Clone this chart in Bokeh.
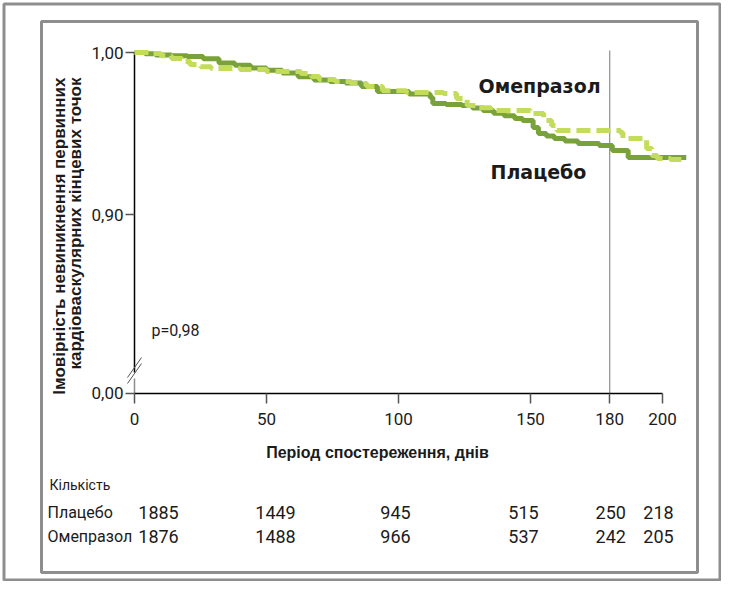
import numpy as np
from bokeh.plotting import figure
from bokeh.models import Range1d, LinearAxis, FixedTicker, CustomJSTickFormatter
from bokeh.core.properties import value
from bokeh.embed import file_html
from bokeh.resources import INLINE

# ---------------- data ----------------
placebo_days = [0, 4, 8, 14, 20, 26, 32, 38, 44, 50, 56, 62, 68, 74, 80, 86, 92, 104, 112, 113,
                118, 124, 128, 132, 136, 140, 144, 147, 151, 153, 156, 159, 163, 168, 176, 181, 187, 209]
placebo_surv = [1.0, 0.9992, 0.9985, 0.9980, 0.9975, 0.9962, 0.9935, 0.9922, 0.9905, 0.9890,
                0.9873, 0.9850, 0.9830, 0.9822, 0.9812, 0.9790, 0.9760, 0.9745, 0.9723, 0.9686,
                0.9680, 0.9673, 0.9658, 0.9643, 0.9626, 0.9610, 0.9594, 0.9581, 0.9538, 0.9501,
                0.9485, 0.9470, 0.9455, 0.9439, 0.9427, 0.9396, 0.9353, 0.9353]

omep_days = [0, 6, 10, 14, 18, 21, 25, 29, 40, 50, 63, 67, 70, 76, 82, 88, 94, 103, 117, 122,
             126, 130, 135, 150, 155, 158, 160, 184, 185, 192, 194, 196, 198, 203, 209]
omep_surv = [1.0, 0.9994, 0.9980, 0.9963, 0.9945, 0.9926, 0.9912, 0.9901, 0.9895, 0.9883,
             0.9871, 0.9852, 0.9834, 0.9822, 0.9809, 0.9790, 0.9765, 0.9754, 0.9747, 0.9717,
             0.9673, 0.9660, 0.9643, 0.9624, 0.9581, 0.9550, 0.9519, 0.9507, 0.9470, 0.9470,
             0.9408, 0.9365, 0.9347, 0.9340, 0.9335]

x_ticks = [0, 50, 100, 150, 180, 200]
y_ticks = [0.79, 0.90, 1.00]          # 0.79 stands in for the broken-axis "0,00"
BREAK_ZERO = 0.79
ref_day = 180

risk_days = [0, 50, 100, 150, 180, 200]
risk_placebo = [1885, 1449, 945, 515, 250, 218]
risk_omep = [1876, 1488, 966, 537, 242, 205]

label_omep = "Омепразол"
label_placebo = "Плацебо"
p_text = "p=0,98"
x_title = "Період спостереження, днів"
y_title = ["Імовірність невиникнення первинних", "кардіоваскулярних кінцевих точок"]
risk_title = "Кількість"

# ---------------- layout ----------------
W, H = 721, 581
X0_PX, PX_PER_DAY = 134, 2.64
Y1_PX, PX_PER_UNIT = 52, 1623


def dx(px):
    return (px - X0_PX) / PX_PER_DAY


def dy(py):
    return 1 - (py - Y1_PX) / PX_PER_UNIT


SOLID = "#7aa23b"
DASH = "#c3dc5c"
GRAY = "#8e8e8e"
TXT = "#1b1b1b"
FONT = "Roboto"

p = figure(width=W, height=H, output_backend="svg", toolbar_location=None,
           x_axis_location=None, y_axis_location=None,
           x_range=Range1d(dx(0), dx(W)), y_range=Range1d(dy(H), dy(0)),
           min_border=0, outline_line_color=None)
p.xgrid.visible = False
p.ygrid.visible = False
p.background_fill_color = "white"
p.border_fill_color = "white"

# borders
p.quad(left=[dx(3.5)], right=[dx(W - 1.5)], top=[dy(3.5)], bottom=[dy(H - 1.5)],
       fill_color=None, line_color=GRAY, line_width=3)
p.quad(left=[dx(41)], right=[dx(697)], top=[dy(21)], bottom=[dy(572)],
       fill_color=None, line_color=GRAY, line_width=3)

# x axis
xaxis = LinearAxis(fixed_location=BREAK_ZERO, ticker=FixedTicker(ticks=x_ticks),
                   bounds=(0, 200))
xaxis.axis_line_color = "black"
xaxis.axis_line_width = 1.5
xaxis.major_tick_line_color = "#555555"
xaxis.major_tick_line_width = 1.5
xaxis.major_tick_out = 10
xaxis.major_tick_in = 0
xaxis.minor_tick_line_color = None
xaxis.major_label_standoff = 10
xaxis.major_label_text_font = FONT
xaxis.major_label_text_font_size = "17px"
xaxis.major_label_text_color = TXT
p.add_layout(xaxis, "below")

# y axis
yaxis = LinearAxis(fixed_location=0, ticker=FixedTicker(ticks=y_ticks))
yaxis.axis_line_color = None
yaxis.major_tick_line_color = "#555555"
yaxis.major_tick_line_width = 1.5
yaxis.major_tick_out = 9
yaxis.major_tick_in = 0
yaxis.minor_tick_line_color = None
yaxis.major_label_standoff = 2
yaxis.major_label_text_font = FONT
yaxis.major_label_text_font_size = "17px"
yaxis.major_label_text_color = TXT
yaxis.formatter = CustomJSTickFormatter(
    code="return tick < 0.8 ? '0,00' : tick.toFixed(2).replace('.', ',');")
p.add_layout(yaxis, "left")

# y-axis line with break
p.segment(x0=[0], x1=[0], y0=[1.0], y1=[dy(372)], line_color="black", line_width=1.5)
p.segment(x0=[0], x1=[0], y0=[dy(378)], y1=[BREAK_ZERO], line_color=GRAY, line_width=1.5)
p.segment(x0=[dx(127), dx(127)], x1=[dx(141), dx(141)],
          y0=[dy(383), dy(377)], y1=[dy(363), dy(357)], line_color="#555555", line_width=1)

# 180-day reference line
p.segment(x0=[ref_day], x1=[ref_day], y0=[dy(50)], y1=[BREAK_ZERO], line_color=GRAY, line_width=1.2)

# curves
p.step(placebo_days, placebo_surv, mode="after", line_color=SOLID, line_width=5)
p.step(omep_days, omep_surv, mode="after", line_color=DASH, line_width=5, line_dash="14 6")

# series labels
p.text(x=[dx(478)], y=[dy(85)], text=[label_omep], text_font=value("DejaVu Sans"),
       text_font_style="bold", text_font_size="19px", text_color=TXT,
       text_align="left", text_baseline="middle")
p.text(x=[dx(490)], y=[dy(171)], text=[label_placebo], text_font=value("DejaVu Sans"),
       text_font_style="bold", text_font_size="19px", text_color=TXT,
       text_align="left", text_baseline="middle")
p.text(x=[dx(151)], y=[dy(330)], text=[p_text], text_font=value(FONT),
       text_font_size="16px", text_color=TXT, text_align="left", text_baseline="middle")

# axis titles
p.text(x=[dx(377)], y=[dy(452)], text=[x_title], text_font=value("Liberation Sans"),
       text_font_style="bold", text_font_size="16px", text_color=TXT,
       text_align="center", text_baseline="middle")
p.text(x=[dx(59), dx(75)], y=[dy(77), dy(77)], text=y_title, angle=np.pi / 2,
       text_font=value("Liberation Sans"), text_font_style="bold", text_font_size="17px",
       text_color=TXT, text_align="right", text_baseline="middle")

# number at risk table
p.text(x=[dx(49)], y=[dy(484)], text=[risk_title], text_font=value(FONT),
       text_font_size="14px", text_color=TXT, text_align="left", text_baseline="middle")
p.text(x=[dx(47), dx(47)], y=[dy(512), dy(536)], text=[label_placebo, label_omep],
       text_font=value(FONT), text_font_size="16px", text_color=TXT,
       text_align="left", text_baseline="middle")
col_offsets = [24, 9, -3, -7, 1, -4]
p.text(x=risk_days, y=[dy(512)] * len(risk_days), text=[str(v) for v in risk_placebo],
       x_offset=col_offsets, text_font=value(FONT), text_font_size="18px", text_color=TXT,
       text_align="center", text_baseline="middle")
p.text(x=risk_days, y=[dy(536)] * len(risk_days), text=[str(v) for v in risk_omep],
       x_offset=col_offsets, text_font=value(FONT), text_font_size="18px", text_color=TXT,
       text_align="center", text_baseline="middle")

open("out.html", "w").write(file_html(p, INLINE))
